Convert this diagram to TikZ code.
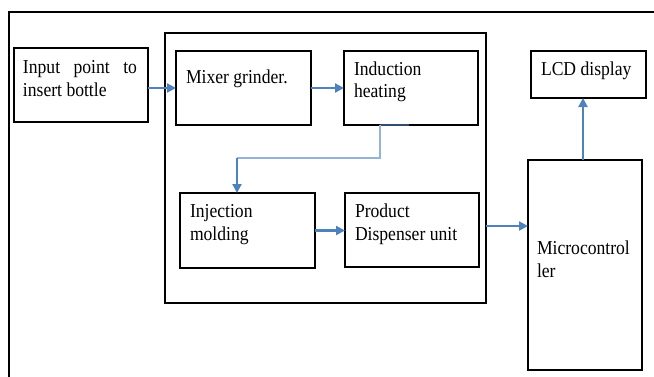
\documentclass[tikz,border=0pt]{standalone}
\usepackage{fontspec}
\usepackage{graphicx}
\setmainfont{Liberation Serif}
\usetikzlibrary{arrows.meta}
\definecolor{arrblue}{RGB}{79,129,189}
\definecolor{lightblue}{RGB}{149,179,215}
\definecolor{navy}{RGB}{50,75,110}
\newcommand{\vtxt}[1]{\scalebox{1}[1.12]{#1}}
\tikzset{
  box/.style={draw=black, line width=2.4pt, rectangle, inner sep=0pt, outer sep=0pt, anchor=north west},
  lbl/.style={anchor=base west, inner sep=0pt, outer sep=0pt, font=\fontsize{17.6}{21}\selectfont},
  arr/.style={draw=arrblue, line width=2.2pt, -{Triangle[length=9pt,width=9pt]}},
  thinline/.style={draw=lightblue, line width=1.3pt}
}
\begin{document}
\begin{tikzpicture}[x=1pt,y=-1pt]
\useasboundingbox (0,0) rectangle (654,376);
% outer frame
\draw[line width=1.4pt] (9,380) -- (9,12) -- (656,12);
% big box
\node[box, line width=2.4pt, minimum width=321pt, minimum height=270pt] (big) at (165,33) {};
% boxes
\node[box, minimum width=134pt, minimum height=74pt] (inp) at (14,48) {};
\node[box, minimum width=135pt, minimum height=74pt] (mix) at (176,51) {};
\node[box, minimum width=134pt, minimum height=74pt] (ind) at (344,51) {};
\node[box, minimum width=135pt, minimum height=75pt] (inj) at (180,193) {};
\node[box, minimum width=134pt, minimum height=74pt] (prod) at (345,193) {};
\node[box, minimum width=115pt, minimum height=47pt] (lcd) at (531,51) {};
\node[box, minimum width=114pt, minimum height=210pt] (mc) at (528,160) {};
% texts
\node[lbl] (t1) at (23,73) {\vtxt{\makebox[114pt][s]{Input point to}}};
\node[lbl] (t2) at (23,96) {\vtxt{insert bottle}};
\node[lbl] (t3) at (186,83) {\vtxt{Mixer grinder.}};
\node[lbl] (t4) at (354,75) {\vtxt{Induction}};
\node[lbl] (t5) at (354,97) {\vtxt{heating}};
\node[lbl] (t6) at (541,75) {\vtxt{LCD display}};
\node[lbl] (t7) at (190,217) {\vtxt{Injection}};
\node[lbl] (t8) at (190,240) {\vtxt{molding}};
\node[lbl] (t9) at (355,217) {\vtxt{Product}};
\node[lbl] (t10) at (355,240) {\vtxt{Dispenser unit}};
\node[lbl] (t11) at (537,254) {\vtxt{Microcontrol}};
\node[lbl] (t12) at (537,277) {\vtxt{ler}};
% connectors
\draw[arr] (inp.east |- mix.west) -- (mix.west);
\draw[arr] (mix.east) -- (ind.west);
\coordinate (c1) at (380,125);
\coordinate (c2) at (380,158);
\coordinate (c3) at (237,158);
\coordinate (c4) at (409,125);
\draw[navy, line width=2.4pt] (c1) -- (c4);
\draw[thinline] (c1) -- (c2) -- (c3);
\draw[arr] (c3) -- (c3 |- inj.north);
\draw[arr] (inj.east) -- (prod.west |- inj.east);
\coordinate (c5) at (486,226);
\draw[arr] (c5) -- (mc.west |- c5);
\coordinate (c6) at (583,160);
\draw[arr] (c6) -- (c6 |- lcd.south);
\end{tikzpicture}
\end{document}
